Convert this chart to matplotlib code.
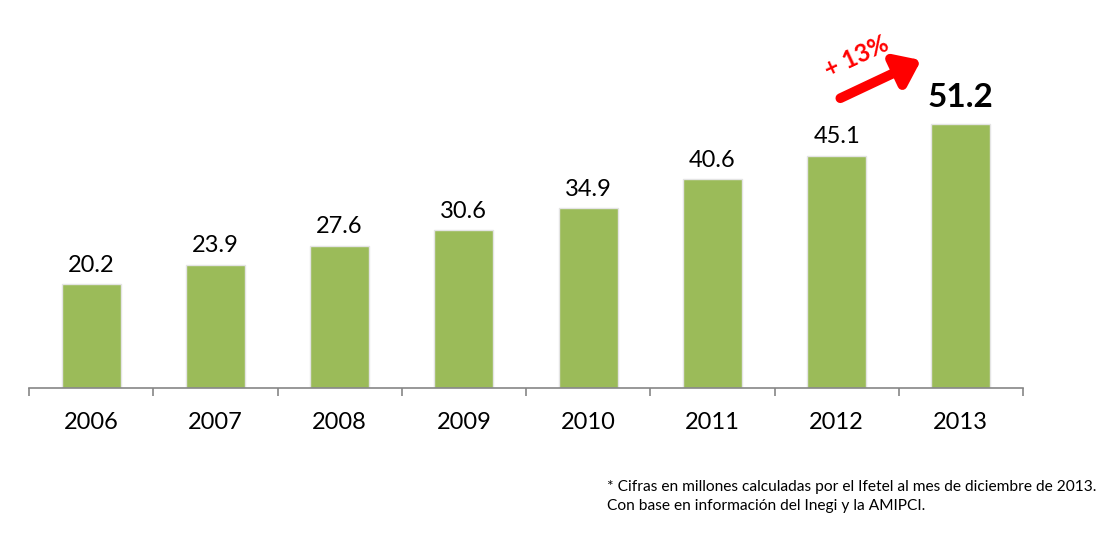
import matplotlib
matplotlib.use("Agg")
import matplotlib.pyplot as plt
import numpy as np

years = ["2006", "2007", "2008", "2009", "2010", "2011", "2012", "2013"]
values = [20.2, 23.9, 27.6, 30.6, 34.9, 40.6, 45.1, 51.2]
growth_label = "+ 13%"
footnote = ("* Cifras en millones calculadas por el Ifetel al mes de diciembre de 2013.\n"
            "Con base en información del Inegi y la AMIPCI.")

plt.rcParams['font.family'] = ['Lato', 'DejaVu Sans']

W, H = 1105, 539
fig = plt.figure(figsize=(W / 100, H / 100), dpi=100)
ax = fig.add_axes([29 / W, (H - 387.7) / H, 994 / W, 387.7 / H])

x = np.arange(len(years))
bar_color = "#9BBB59"
ax.bar(x, values, width=0.475, color=bar_color, edgecolor="#e4e4e4", linewidth=1.0, zorder=2)

ax.set_xlim(-0.5, len(years) - 0.5)
ax.set_ylim(0, 75.4)

for i, v in enumerate(values):
    last = i == len(values) - 1
    ax.annotate(f"{v:.1f}", (i, v), xytext=(0, 6 if not last else 9), textcoords="offset points",
                ha="center", va="bottom",
                fontsize=24 if last else 17, fontweight="bold" if last else "normal",
                color="black")

for s in ["top", "right", "left"]:
    ax.spines[s].set_visible(False)
ax.spines["bottom"].set_color("#868686")
ax.spines["bottom"].set_linewidth(1.2)
ax.set_yticks([])
ax.set_xticks(x)
ax.set_xticklabels(years, fontsize=17)
ax.tick_params(axis="x", which="major", length=0, pad=17.5)
ax.set_xticks(np.arange(-0.5, len(years)), minor=True)
ax.tick_params(axis="x", which="minor", length=6, width=1.2, color="#868686")

# growth arrow between the last two years
i12, i13 = len(values) - 2, len(values) - 1
ax.annotate("", xy=(i12 + 0.68, values[i12] + 18.6), xytext=(i12 + 0.03, values[i12] + 11.2),
            arrowprops=dict(arrowstyle="-|>,head_length=1.0,head_width=0.75", color="#FF0000",
                            lw=7, shrinkA=0, shrinkB=0, mutation_scale=14), annotation_clip=False)
ax.text(i12 + 0.16, values[i12] + 19.2, growth_label, rotation=25, ha="center", va="center",
        fontsize=17.5, fontweight="bold", color="#FF0000")

fig.text(607 / W, 1 - 480 / H, footnote, ha="left", va="top", fontsize=11.2,
         linespacing=1.45, color="black")

fig.savefig("out.png", dpi=100)
